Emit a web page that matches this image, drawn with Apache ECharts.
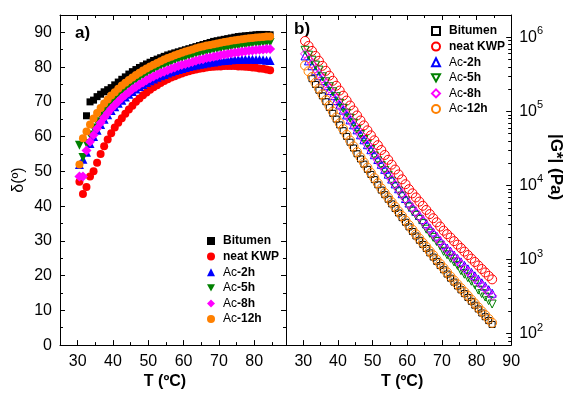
<!DOCTYPE html>
<html>
<head>
<meta charset="utf-8">
<script src="https://cdn.jsdelivr.net/npm/echarts@6/dist/echarts.min.js"></script>
<style>
html, body { margin: 0; padding: 0; background: #fff; }
#chart { width: 565px; height: 395px; }
</style>
</head>
<body>
<div id="chart"></div>
<script>
// temperature of each measurement point (°C)
const temps = [30.5, 31.5, 32.5, 33.5, 34.5, 35.5, 36.5, 37.5, 38.5, 39.5,
    40.5, 41.5, 42.5, 43.5, 44.5, 45.5, 46.5, 47.5, 48.5, 49.5,
    50.5, 51.5, 52.5, 53.5, 54.5, 55.5, 56.5, 57.5, 58.5, 59.5,
    60.5, 61.5, 62.5, 63.5, 64.5, 65.5, 66.5, 67.5, 68.5, 69.5,
    70.5, 71.5, 72.5, 73.5, 74.5, 75.5, 76.5, 77.5, 78.5, 79.5,
    80.5, 81.5, 82.5, 83.5, 84.5];

const sampleNames = ['Bitumen', 'neat KWP', 'Ac-2h', 'Ac-5h', 'Ac-8h', 'Ac-12h'];
const sampleColors = ['#000000', '#ff0000', '#0000ff', '#008000', '#ff00ff', '#ff8000'];

// a) phase angle δ (°)
const deltaBitumen = [null, null, 66, 70, 70.5, 71.5, 72.2, 72.9, 73.5, 74.1,
    74.9, 75.7, 76.5, 77.2, 78, 78.7, 79.3, 79.9, 80.4, 80.9,
    81.4, 81.9, 82.3, 82.7, 83.1, 83.5, 83.8, 84.1, 84.4, 84.7,
    85, 85.3, 85.6, 85.9, 86.2, 86.5, 86.8, 87.1, 87.4, 87.6,
    87.8, 88, 88.2, 88.4, 88.6, 88.8, 88.9, 89, 89.1, 89.2,
    89.3, 89.4, 89.4, 89.4, 89.3];
const deltaKWP = [47, 43.5, 45.5, 48.5, 50, 52.5, 55, 57.2, 59.2, 61,
    62.6, 64, 65.3, 66.6, 67.8, 68.9, 70, 71, 71.9, 72.7,
    73.5, 74.2, 74.8, 75.4, 76, 76.5, 77, 77.4, 77.8, 78.2,
    78.5, 78.8, 79.1, 79.3, 79.5, 79.7, 79.9, 80, 80.1, 80.2,
    80.2, 80.3, 80.3, 80.3, 80.3, 80.2, 80.2, 80.1, 80, 79.9,
    79.8, 79.6, 79.5, 79.3, 79.1];
const deltaAc2 = [52, 53.5, 55.5, 58, 60, 61.8, 63.5, 65, 66.3, 67.5,
    68.6, 69.6, 70.5, 71.4, 72.2, 73, 73.7, 74.4, 75, 75.6,
    76.1, 76.6, 77.1, 77.5, 77.9, 78.3, 78.7, 79, 79.3, 79.6,
    79.9, 80.2, 80.4, 80.6, 80.8, 81, 81.2, 81.4, 81.5, 81.7,
    81.8, 81.9, 82, 82.1, 82.2, 82.2, 82.3, 82.3, 82.3, 82.3,
    82.2, 82.2, 82.1, 82, 81.9];
const deltaAc5 = [57.5, 54, 58, 60.5, 62.5, 64.3, 66, 67.5, 68.8, 70,
    71.1, 72.1, 73, 73.9, 74.7, 75.5, 76.2, 76.9, 77.5, 78.1,
    78.7, 79.2, 79.7, 80.2, 80.6, 81, 81.4, 81.8, 82.2, 82.5,
    82.8, 83.1, 83.4, 83.7, 84, 84.2, 84.4, 84.7, 84.9, 85.1,
    85.3, 85.5, 85.6, 85.8, 86, 86.1, 86.3, 86.4, 86.5, 86.7,
    86.8, 86.9, 87, 87.1, 87.1];
const deltaAc8 = [48.5, 48.5, 56, 58.5, 60.5, 62.3, 64, 65.5, 66.8, 68,
    69.1, 70.1, 71.1, 72, 72.8, 73.6, 74.3, 75, 75.6, 76.2,
    76.8, 77.3, 77.8, 78.3, 78.7, 79.1, 79.5, 79.9, 80.3, 80.6,
    80.9, 81.2, 81.5, 81.8, 82.1, 82.3, 82.6, 82.8, 83, 83.2,
    83.4, 83.6, 83.8, 84, 84.1, 84.3, 84.4, 84.6, 84.7, 84.8,
    84.9, 85, 85.1, 85.2, 85.2];
const deltaAc12 = [52, 59.5, 61.5, 63.5, 65.2, 66.8, 68.2, 69.5, 70.7, 71.8,
    72.8, 73.8, 74.7, 75.5, 76.3, 77, 77.7, 78.4, 79, 79.6,
    80.2, 80.7, 81.2, 81.7, 82.2, 82.6, 83, 83.4, 83.8, 84.1,
    84.5, 84.8, 85.1, 85.4, 85.7, 85.9, 86.2, 86.4, 86.6, 86.8,
    87, 87.2, 87.4, 87.6, 87.7, 87.9, 88, 88.2, 88.3, 88.4,
    88.5, 88.6, 88.7, 88.8, 88.8];

// b) complex modulus |G*| (Pa)
const gBitumen = [null, null, 276000, 231000, 193000, 162000, 135000, 113000, 94100, 78700,
    65700, 54900, 45900, 38400, 32000, 26800, 22800, 19400, 16500, 14100,
    12000, 10200, 8660, 7510, 6520, 5640, 4890, 4250, 3680, 3190,
    2760, 2390, 2080, 1820, 1600, 1410, 1230, 1080, 945, 829,
    728, 637, 560, 496, 440, 390, 347, 308, 273, 242,
    215, 190, 169, 150, 133];
const gKWP = [891000, 764000, 655000, 561000, 481000, 412000, 353000, 303000, 259000, 222000,
    191000, 163000, 140000, 120000, 103000, 88100, 75500, 64700, 55500, 47500,
    40700, 35000, 30100, 25800, 22200, 19100, 16400, 14100, 12100, 10400,
    8910, 7830, 6890, 6050, 5320, 4680, 4110, 3610, 3180, 2790,
    2450, 2200, 1980, 1770, 1590, 1430, 1280, 1150, 1030, 927,
    832, 746, 670, 601, 540];
const gAc2 = [561000, 481000, 413000, 353000, 303000, 260000, 222000, 191000, 163000, 140000,
    122000, 104000, 89600, 76800, 65900, 56400, 48300, 41400, 35500, 30400,
    26000, 22400, 19300, 16500, 14200, 12200, 10500, 9020, 7740, 6660,
    5790, 5090, 4480, 3930, 3460, 3040, 2670, 2350, 2070, 1810,
    1590, 1430, 1290, 1150, 1030, 930, 832, 748, 670, 603,
    541, 485, 436, 391, 351];
const gAc5 = [668000, 573000, 491000, 421000, 361000, 293000, 251000, 215000, 184000, 158000,
    129000, 110000, 94500, 81000, 69500, 56800, 48700, 41700, 35800, 30600,
    25000, 21500, 18500, 15900, 13700, 11400, 9760, 8390, 7200, 6190,
    5120, 4500, 3960, 3480, 3060, 2570, 2260, 1990, 1750, 1530,
    1290, 1160, 1040, 929, 835, 708, 634, 569, 510, 459,
    387, 347, 312, 279, 251];
const gAc8 = [597000, 512000, 439000, 376000, 322000, 276000, 237000, 203000, 174000, 149000,
    123000, 105000, 90300, 77400, 66400, 56800, 48700, 41700, 35800, 30600,
    25600, 22100, 19000, 16300, 14000, 12000, 10300, 8880, 7620, 6550,
    5610, 4930, 4340, 3810, 3350, 2880, 2530, 2220, 1960, 1720,
    1510, 1350, 1220, 1090, 978, 858, 768, 690, 618, 556,
    499, 448, 402, 361, 324];
const gAc12 = [417000, 348000, 291000, 243000, 203000, 170000, 142000, 119000, 99100, 82800,
    69200, 57800, 48300, 40400, 33700, 28200, 24000, 20400, 17400, 14800,
    12600, 10700, 9120, 7910, 6860, 5940, 5150, 4470, 3870, 3360,
    2910, 2520, 2190, 1920, 1680, 1480, 1290, 1140, 995, 873,
    766, 671, 589, 522, 463, 411, 365, 324, 287, 255,
    226, 200, 178, 158, 140];

// tick positions
const tMajorA = [30, 40, 50, 60, 70, 80];
const tMinorA = [35, 45, 55, 65, 75, 85];
const tMajorB = [30, 40, 50, 60, 70, 80, 90];
const tMinorB = [35, 45, 55, 65, 75, 85];
const dMajor = [0, 10, 20, 30, 40, 50, 60, 70, 80, 90];
const dMinor = [5, 15, 25, 35, 45, 55, 65, 75, 85];
const gMinor = [80, 90, 200, 300, 400, 500, 600, 700, 800, 900,
    2000, 3000, 4000, 5000, 6000, 7000, 8000, 9000,
    20000, 30000, 40000, 50000, 60000, 70000, 80000, 90000,
    200000, 300000, 400000, 500000, 600000, 700000, 800000, 900000];

const deltaSets = [deltaBitumen, deltaKWP, deltaAc2, deltaAc5, deltaAc8, deltaAc12];
const gSets = [gBitumen, gKWP, gAc2, gAc5, gAc8, gAc12];
const TRI_DOWN = 'path://M0,0 L10,0 L5,9 Z';
const symbolsA = ['rect', 'circle', 'triangle', TRI_DOWN, 'diamond', 'circle'];
const sizesA = [7, 8, 9, 9, 10, 8];
const sizesB = [6, 9, 8, 8, 9, 9];

const FONT = "'Liberation Sans', Arial, sans-serif";
const lineStyle = { color: '#000', width: 1 };
const G_SUFFIX = ' (G*)';

function pairs(values) {
    const out = [];
    for (let i = 0; i < temps.length; i++) {
        if (values[i] != null) out.push([temps[i], values[i]]);
    }
    return out;
}

function legendLabel(name) {
    const base = name.replace(G_SUFFIX, '');
    if (base.indexOf('Ac') === 0) return '{n|Ac}{b|' + base.slice(2) + '}';
    return '{b|' + base + '}';
}

// one axis for major ticks (+line, labels) and an overlaid one for minor ticks
function linAxis(grid, pos, min, max, ticks, withLine, labels, extra) {
    return Object.assign({
        gridIndex: grid, type: 'value', position: pos, min: min, max: max,
        axisLine: { show: withLine, onZero: false, lineStyle: lineStyle },
        axisTick: { show: true, inside: true, length: withLine ? 5 : 3, customValues: ticks, lineStyle: lineStyle },
        axisLabel: labels ? { show: true, customValues: labels, fontSize: 16, color: '#000', fontFamily: FONT, margin: 8 } : { show: false },
        splitLine: { show: false }
    }, extra || {});
}

const xName = function (pad) {
    return {
        name: 'T (ºC)', nameLocation: 'middle', nameGap: 28,
        nameTextStyle: { fontWeight: 'bold', fontSize: 16, color: '#000', fontFamily: FONT, padding: pad }
    };
};

const xAxes = [
    linAxis(0, 'bottom', 25, 89, tMajorA, true, tMajorA, xName([0, 16, 0, 0])),
    linAxis(0, 'bottom', 25, 89, tMinorA, false, null),
    linAxis(0, 'top', 25, 89, tMajorA, true, null),
    linAxis(0, 'top', 25, 89, tMinorA, false, null),
    linAxis(1, 'bottom', 25, 90, tMajorB, true, tMajorB, xName([0, 0, 0, 7])),
    linAxis(1, 'bottom', 25, 90, tMinorB, false, null),
    linAxis(1, 'top', 25, 90, tMajorB, true, null),
    linAxis(1, 'top', 25, 90, tMinorB, false, null)
];

const yAxes = [
    linAxis(0, 'left', 0, 95, dMajor, true, dMajor, {
        name: 'δ(º)', nameLocation: 'middle', nameGap: 33,
        nameTextStyle: { fontSize: 16, color: '#000', fontFamily: FONT }
    }),
    linAxis(0, 'left', 0, 95, dMinor, false, null),
    linAxis(0, 'right', 0, 95, dMajor, true, null),
    linAxis(0, 'right', 0, 95, dMinor, false, null),
    {
        gridIndex: 1, type: 'log', position: 'right', min: 70, max: 2000000, logBase: 10,
        axisLine: { show: true, onZero: false, lineStyle: lineStyle },
        axisTick: { show: true, inside: true, length: 5, lineStyle: lineStyle },
        axisLabel: {
            show: true, color: '#000', fontFamily: FONT, margin: 8,
            showMinLabel: false, showMaxLabel: false,
            formatter: function (v) {
                const e = Math.log10(v);
                if (Math.abs(e - Math.round(e)) > 1e-6) return '';
                return '{m|10}{s|' + Math.round(e) + '}';
            },
            rich: {
                m: { fontSize: 16, fontFamily: FONT, color: '#000', lineHeight: 16 },
                s: { fontSize: 11, fontFamily: FONT, color: '#000', lineHeight: 11, padding: [0, 0, 12, 0] }
            }
        },
        splitLine: { show: false },
        name: '|G*| (Pa)', nameLocation: 'middle', nameGap: 27, nameRotate: -90,
        nameTextStyle: { fontWeight: 'bold', fontSize: 17, color: '#000', fontFamily: FONT, padding: [0, 26, 0, 0] }
    },
    {
        gridIndex: 1, type: 'log', position: 'right', min: 70, max: 2000000,
        axisLine: { show: false, onZero: false },
        axisTick: { show: true, inside: true, length: 3, customValues: gMinor, lineStyle: lineStyle },
        axisLabel: { show: false },
        splitLine: { show: false }
    },
    {
        gridIndex: 1, type: 'log', position: 'left', min: 70, max: 2000000,
        axisLine: { show: true, onZero: false, lineStyle: lineStyle },
        axisTick: { show: false },
        axisLabel: { show: false },
        splitLine: { show: false }
    }
];

const series = [];
sampleNames.forEach(function (name, i) {
    series.push({
        name: name, type: 'scatter', xAxisIndex: 0, yAxisIndex: 0,
        symbol: symbolsA[i], symbolSize: sizesA[i],
        itemStyle: { color: sampleColors[i], opacity: 1 },
        data: pairs(deltaSets[i])
    });
});
sampleNames.forEach(function (name, i) {
    series.push({
        name: name + G_SUFFIX, type: 'scatter', xAxisIndex: 4, yAxisIndex: 4,
        symbol: symbolsA[i], symbolSize: sizesB[i],
        itemStyle: { color: 'rgba(255,255,255,0)', borderColor: sampleColors[i], borderWidth: 1, opacity: 1 },
        data: pairs(gSets[i])
    });
});

function legendOpt(names, left, top, pad) {
    return {
        data: names, orient: 'vertical', left: left, top: top,
        itemWidth: 8, itemHeight: 8, itemGap: 3.6,
        selectedMode: false,
        formatter: legendLabel,
        textStyle: {
            fontSize: 12, color: '#000', fontFamily: FONT, lineHeight: 12, padding: [0, 0, 0, pad],
            rich: {
                n: { fontSize: 12, fontFamily: FONT, color: '#000', fontWeight: 'normal' },
                b: { fontSize: 12, fontFamily: FONT, color: '#000', fontWeight: 'bold' }
            }
        }
    };
}

const chart = echarts.init(document.getElementById('chart'), null, { renderer: 'canvas' });
chart.setOption({
    backgroundColor: '#fff',
    animation: false,
    grid: [
        { left: 60, top: 15, width: 226, height: 332 },
        { left: 286, top: 15, width: 227, height: 332 }
    ],
    xAxis: xAxes,
    yAxis: yAxes,
    legend: [
        legendOpt(sampleNames, 202, 230, 3),
        legendOpt(sampleNames.map(function (n) { return n + G_SUFFIX; }), 426, 20, 4)
    ],
    graphic: [
        { type: 'text', left: 75, top: 25, style: { text: 'a)', font: "bold 17px 'Liberation Sans', Arial, sans-serif", fill: '#000' } },
        { type: 'text', left: 294, top: 21, style: { text: 'b)', font: "bold 17px 'Liberation Sans', Arial, sans-serif", fill: '#000' } }
    ],
    series: series
});
</script>
</body>
</html>
